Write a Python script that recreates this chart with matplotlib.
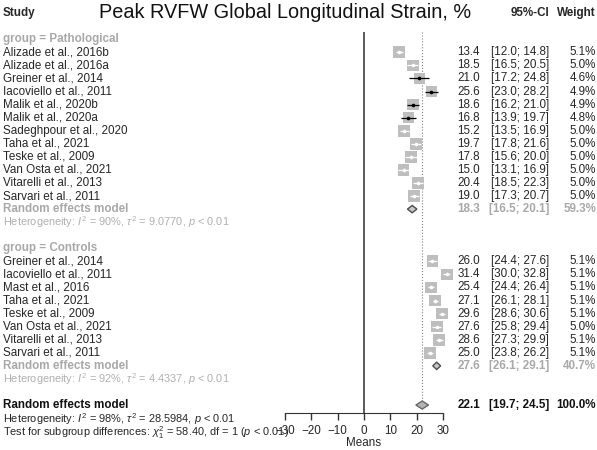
import numpy as np
import matplotlib
matplotlib.use('Agg')
import matplotlib.pyplot as plt
from matplotlib import transforms

plt.rcParams['font.family'] = ['Liberation Sans', 'DejaVu Sans']
plt.rcParams['mathtext.fontset'] = 'custom'
plt.rcParams['mathtext.rm'] = 'Liberation Sans'
plt.rcParams['mathtext.it'] = 'Liberation Sans:italic'
plt.rcParams['mathtext.bf'] = 'Liberation Sans:bold'

# --- data ---
patho_studies = ['Alizade et al., 2016b', 'Alizade et al., 2016a', 'Greiner et al., 2014',
                 'Iacoviello et al., 2011', 'Malik et al., 2020b', 'Malik et al., 2020a',
                 'Sadeghpour et al., 2020', 'Taha et al., 2021', 'Teske et al., 2009',
                 'Van Osta et al., 2021', 'Vitarelli et al., 2013', 'Sarvari et al., 2011']
patho_mean = [13.4, 18.5, 21.0, 25.6, 18.6, 16.8, 15.2, 19.7, 17.8, 15.0, 20.4, 19.0]
patho_lo = [12.0, 16.5, 17.2, 23.0, 16.2, 13.9, 13.5, 17.8, 15.6, 13.1, 18.5, 17.3]
patho_hi = [14.8, 20.5, 24.8, 28.2, 21.0, 19.7, 16.9, 21.6, 20.0, 16.9, 22.3, 20.7]
patho_weight = [5.1, 5.0, 4.6, 4.9, 4.9, 4.8, 5.0, 5.0, 5.0, 5.0, 5.0, 5.0]
patho_pooled = [18.3, 16.5, 20.1, 59.3]   # mean, lo, hi, weight
patho_het = r'Heterogeneity: $I^2$ = 90%, $\tau^2$ = 9.0770, $p$ < 0.01'

ctrl_studies = ['Greiner et al., 2014', 'Iacoviello et al., 2011', 'Mast et al., 2016',
                'Taha et al., 2021', 'Teske et al., 2009', 'Van Osta et al., 2021',
                'Vitarelli et al., 2013', 'Sarvari et al., 2011']
ctrl_mean = [26.0, 31.4, 25.4, 27.1, 29.6, 27.6, 28.6, 25.0]
ctrl_lo = [24.4, 30.0, 24.4, 26.1, 28.6, 25.8, 27.3, 23.8]
ctrl_hi = [27.6, 32.8, 26.4, 28.1, 30.6, 29.4, 29.9, 26.2]
ctrl_weight = [5.1, 5.1, 5.1, 5.1, 5.1, 5.0, 5.1, 5.1]
ctrl_pooled = [27.6, 26.1, 29.1, 40.7]
ctrl_het = r'Heterogeneity: $I^2$ = 92%, $\tau^2$ = 4.4337, $p$ < 0.01'

overall_pooled = [22.1, 19.7, 24.5, 100.0]
overall_het = r'Heterogeneity: $I^2$ = 98%, $\tau^2$ = 28.5984, $p$ < 0.01'
subgroup_test = r'Test for subgroup differences: $\chi^2_1$ = 58.40, df = 1 ($p$ < 0.01)'

xticks = [-30, -20, -10, 0, 10, 20, 30]

# colours
dark = '#262626'
grey = '#A8A8A8'
sq_col = '#BEBEBE'
fs = 8.4
fs_small = 7.9

W, H = 597, 450
fig = plt.figure(figsize=(W / 100, H / 100), dpi=100)
# axes box in pixels: x 285..443, y 32..413 ; rows: y_px = 39.3 + 13.06*row
ax = fig.add_axes([285 / W, (H - 413) / H, 158 / W, 381 / H])
ax.set_xlim(-30, 30)
ax.set_ylim(28.61, -0.56)
for s in ['top', 'left', 'right']:
    ax.spines[s].set_visible(False)
ax.spines['bottom'].set_color('#333333')
ax.set_yticks([])
ax.set_xticks(xticks)
ax.tick_params(axis='x', length=5, width=1, color='#333333', labelsize=fs,
               labelcolor=dark, pad=4)
ax.set_xlabel('Means', fontsize=fs, color=dark, labelpad=0)

px_per_unit = 158 / 60.0
tr = transforms.blended_transform_factory(fig.transFigure, ax.transData)
x_lab, x_mean, x_ci, x_w = 3 / W, 480 / W, 549 / W, 596 / W

ax.axvline(0, color='#4D4D4D', lw=1.3, zorder=1)
ax.vlines(overall_pooled[0], -0.56, 27.7, color='#808080', lw=0.8, linestyle=':', zorder=1)


def draw_studies(rows, names, means, lo, hi, wts):
    sizes = 72 * np.array(wts) / 5.1
    ax.scatter(means, rows, marker='s', s=sizes, color=sq_col, edgecolor='none',
               zorder=3, clip_on=False)
    for r, m, l, h, sz in zip(rows, means, lo, hi, sizes):
        half = np.sqrt(sz) / 2 * 100 / 72 / px_per_unit
        c = 'black' if (m - l) > half else 'white'
        ax.hlines(r, l, h, color=c, lw=0.9, zorder=4, clip_on=False)
        ax.plot(m, r, marker='o', ms=1.6, color=c, zorder=5, clip_on=False)
    for r, n, m, l, h, w in zip(rows, names, means, lo, hi, wts):
        ax.text(x_lab, r, n, transform=tr, ha='left', va='center', fontsize=fs, color=dark)
        ax.text(x_mean, r, f'{m:.1f}', transform=tr, ha='right', va='center', fontsize=fs, color=dark)
        ax.text(x_ci, r, f'[{l:.1f}; {h:.1f}]', transform=tr, ha='right', va='center', fontsize=fs, color=dark)
        ax.text(x_w, r, f'{w:.1f}%', transform=tr, ha='right', va='center', fontsize=fs, color=dark)


def draw_pooled(r, vals, col, edge, fill, hh):
    m, l, h, w = vals
    ax.fill([l, m, h, m], [r, r - hh, r, r + hh], facecolor=fill, edgecolor=edge, lw=1.0,
            zorder=4, clip_on=False)
    ax.text(x_lab, r, 'Random effects model', transform=tr, ha='left', va='center',
            fontsize=fs, color=col, fontweight='bold')
    ax.text(x_mean, r, f'{m:.1f}', transform=tr, ha='right', va='center', fontsize=fs,
            color=col, fontweight='bold')
    ax.text(x_ci, r, f'[{l:.1f}; {h:.1f}]', transform=tr, ha='right', va='center',
            fontsize=fs, color=col, fontweight='bold')
    ax.text(x_w, r, f'{w:.1f}%', transform=tr, ha='right', va='center', fontsize=fs,
            color=col, fontweight='bold')


# header
fig.text(285 / W, 1 - 13 / H, 'Peak RVFW Global Longitudinal Strain, %', ha='center',
         va='center', fontsize=14.3, color='#111111')
ax.text(x_lab, -2, 'Study', transform=tr, ha='left', va='center', fontsize=fs,
        fontweight='bold', color=dark)
ax.text(x_ci, -2, '95%-CI', transform=tr, ha='right', va='center', fontsize=fs,
        fontweight='bold', color=dark)
ax.text(x_w, -2, 'Weight', transform=tr, ha='right', va='center', fontsize=fs,
        fontweight='bold', color=dark)

# pathological group
ax.text(x_lab, 0, 'group = Pathological', transform=tr, ha='left', va='center',
        fontsize=fs, fontweight='bold', color=grey)
draw_studies(np.arange(1, 13), patho_studies, patho_mean, patho_lo, patho_hi, patho_weight)
draw_pooled(13, patho_pooled, grey, '#4D4D4D', '#C8C8C8', 0.28)
ax.text(x_lab, 14, patho_het, transform=tr, ha='left', va='center', fontsize=fs_small, color='#B0B0B0')

# control group
ax.text(x_lab, 16, 'group = Controls', transform=tr, ha='left', va='center',
        fontsize=fs, fontweight='bold', color=grey)
draw_studies(np.arange(17, 25), ctrl_studies, ctrl_mean, ctrl_lo, ctrl_hi, ctrl_weight)
draw_pooled(25, ctrl_pooled, grey, '#4D4D4D', '#C8C8C8', 0.28)
ax.text(x_lab, 26, ctrl_het, transform=tr, ha='left', va='center', fontsize=fs_small, color='#B0B0B0')

# overall
draw_pooled(28, overall_pooled, '#111111', '#666666', '#B3B3B3', 0.31)
ax.text(x_lab, 29.05, overall_het, transform=tr, ha='left', va='center', fontsize=fs_small, color=dark)
ax.text(x_lab, 30.1, subgroup_test, transform=tr, ha='left', va='center', fontsize=fs_small, color=dark)

fig.savefig('out.png', dpi=100)
